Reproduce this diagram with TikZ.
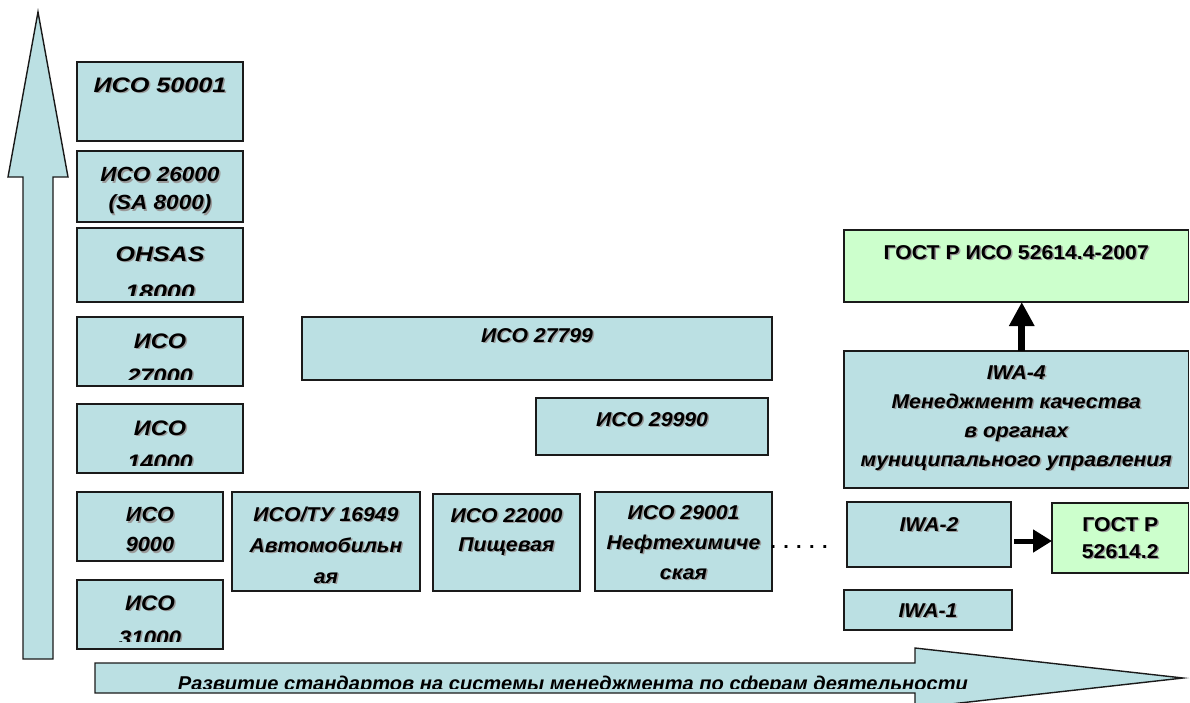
\documentclass[tikz,border=0pt]{standalone}
\usepackage{fontspec}
\setmainfont{Liberation Sans}
\usetikzlibrary{arrows.meta}
\definecolor{boxblue}{HTML}{BBE0E3}
\definecolor{boxgreen}{HTML}{CCFFCC}
\definecolor{edge}{HTML}{1A1A1A}
\definecolor{shadowgray}{HTML}{9A9A9A}
\tikzset{
  tpad/.store in=\tpad, tpad=14,
  bskip/.store in=\bskip, bskip=29,
  fsz/.store in=\fsz, fsz=20,
  stretch/.store in=\stretchf, stretch=1.06,
  shp/.store in=\shp, shp=\itshape,
  clipin/.store in=\clipin, clipin=7,
  boxshape/.style={draw=edge, line width=1.4pt, fill=boxblue, inner sep=0pt, outer sep=0pt},
  greenbox/.style={fill=boxgreen, shp=\upshape},
  boxtext/.style={draw=none, fill=none, minimum width=0pt, minimum height=0pt,
    path picture={}, anchor=north, inner sep=0pt,
    font={\fontsize{\fsz}{\bskip}\selectfont\bfseries\shp}},
  bigarrow/.style={line width=7pt, -{Triangle[length=24pt,width=24pt]}},
  midarrow/.style={line width=5pt, -{Triangle[length=19pt,width=22pt]}},
  outline/.style={draw=edge, line width=1.4pt, fill=boxblue},
}
\newcommand\stk[1]{\scalebox{\stretchf}[1]{\renewcommand\arraystretch{1}\begin{tabular}{@{}c@{}}#1\end{tabular}}}
\newcommand\stdbox[7][]{%
  \node[boxshape, #1, anchor=north west,
        minimum width={(#5-#3)*1pt}, minimum height={(#6-#4)*1pt},
        path picture={%
          \clip ([yshift={\clipin*1pt}]path picture bounding box.south west) rectangle (path picture bounding box.north east);
          \node[boxtext, text=shadowgray, xshift=1.5pt, yshift={-(\tpad+1.5+0.716*\fsz-0.7*\bskip)*1pt}]
            at (path picture bounding box.north) {\stk{#7}};
          \node[boxtext, yshift={-(\tpad+0.716*\fsz-0.7*\bskip)*1pt}]
            at (path picture bounding box.north) {\stk{#7}};
        }] (#2) at (#3,#4) {};}
\begin{document}
\begin{tikzpicture}[x=1pt,y=-1pt]
\useasboundingbox (0,0) rectangle (1190,702);
% vertical arrow
\draw[outline] (23,659) -- (53,659) -- (53,177) -- (68,177) -- (38,12) -- (8,177) -- (23,177) -- cycle;
% horizontal arrow
\draw[outline] (95,663) -- (915,663) -- (915,648) -- (1183,678) -- (915,708) -- (915,693) -- (95,693) -- cycle;
\begin{scope}
  \clip (95,600) rectangle (1190,688);
  \node[anchor=base, inner sep=0pt, font=\fontsize{20}{20}\selectfont\bfseries\itshape] (devtext) at (573,690)
    {\resizebox{790pt}{\height}{Развитие стандартов на системы менеджмента по сферам деятельности}};
\end{scope}
% left column
\stdbox[fsz=21, stretch=1.2, tpad=15]{iso50001}{77}{62}{243}{141}{ИСО 50001}
\stdbox[fsz=20.5, stretch=1.1, tpad=16, bskip=28]{iso26000}{77}{151}{243}{222}{ИСО 26000\\(SA 8000)}
\stdbox[fsz=21, stretch=1.19, tpad=18, bskip=38]{ohsas}{77}{228}{243}{302}{OHSAS\\18000}
\stdbox[fsz=21, stretch=1.12, tpad=16, bskip=35]{iso27000}{77}{317}{243}{386}{ИСО\\27000}
\stdbox[fsz=21, stretch=1.12, tpad=16, bskip=34, clipin=8]{iso14000}{77}{404}{243}{473}{ИСО\\14000}
\stdbox[fsz=20.5, stretch=1.06, tpad=15, bskip=30]{iso9000}{77}{492}{223}{561}{ИСО\\9000}
\stdbox[fsz=21, stretch=1.07, tpad=15, bskip=35, clipin=8]{iso31000}{77}{580}{223}{649}{ИСО\\31000}
% middle
\stdbox[tpad=11]{iso27799}{302}{317}{772}{380}{ИСО 27799}
\stdbox[tpad=14]{iso29990}{536}{398}{768}{455}{ИСО 29990}
\stdbox[tpad=15, bskip=31]{iso16949}{232}{492}{420}{591}{ИСО/ТУ 16949\\Автомобильн\\ая}
\stdbox[tpad=14, bskip=29]{iso22000}{433}{494}{580}{591}{ИСО 22000\\Пищевая}
\stdbox[tpad=13, bskip=30]{iso29001}{595}{492}{772}{591}{ИСО 29001\\Нефтехимиче\\ская}
\node[anchor=base, inner sep=0pt, font=\fontsize{20}{20}\selectfont\bfseries] (dots) at (799,548) {. . . . .};
% right
\stdbox[greenbox, tpad=15]{gost4}{844}{230}{1188.5}{302}{ГОСТ Р ИСО 52614.4-2007}
\stdbox[tpad=14, bskip=29]{iwa4}{844}{351}{1188.5}{488}{IWA-4\\Менеджмент качества\\в органах\\муниципального управления}
\stdbox[tpad=15]{iwa2}{847}{502}{1011}{567}{IWA-2}
\stdbox[greenbox, tpad=14, bskip=27]{gost2}{1052}{503}{1188.5}{573}{ГОСТ Р\\52614.2}
\stdbox[tpad=13]{iwa1}{844}{590}{1012}{630}{IWA-1}
% connectors
\draw[bigarrow] ([xshift=5.5pt]iwa4.north) -- ([xshift=5.5pt]gost4.south);
\coordinate (a2y) at (0,541);
\draw[midarrow] ([xshift=3pt]iwa2.east |- a2y) -- (gost2.west |- a2y);
\end{tikzpicture}
\end{document}
